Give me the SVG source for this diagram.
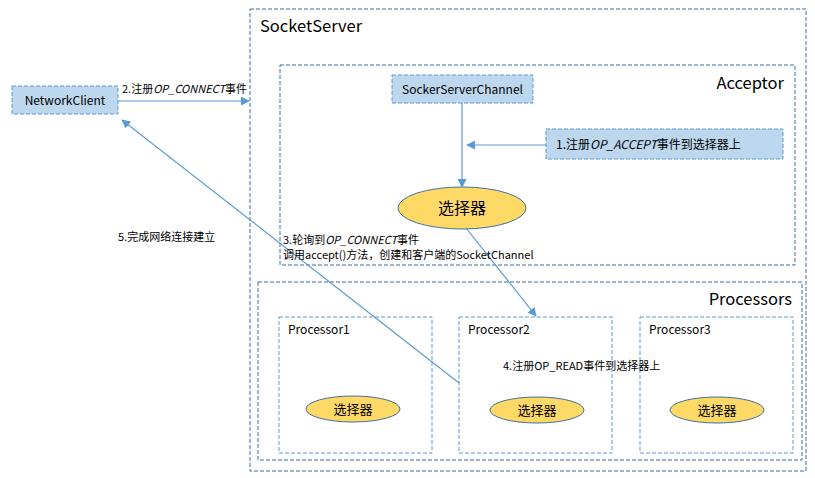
<svg xmlns="http://www.w3.org/2000/svg" width="815" height="478" viewBox="0 0 815 478">
<defs>
<style>
text{font-family:"Noto Sans CJK SC","Noto Sans",sans-serif;fill:#000}
.big{font-size:16.5px}
.mid{font-size:12px}
.sm{font-size:11px}
.outer{fill:none;stroke:#3A6EA5;stroke-dasharray:4 2;stroke-width:1}
.inner{fill:none;stroke:#5B9BD5;stroke-dasharray:4 2;stroke-width:1}
.blue{fill:#BDD7EE;stroke:#5B9BD5;stroke-dasharray:4 2;stroke-width:1}
.sel{fill:#FFD966;stroke:#41719C;stroke-width:1}
.ln{fill:none;stroke:#5B9BD5;stroke-width:1.2}
</style>
<marker id="ah" viewBox="0 0 10 10" refX="9" refY="5" markerWidth="9" markerHeight="9" markerUnits="userSpaceOnUse" orient="auto">
<path d="M0,0 L10,5 L0,10 z" fill="#5B9BD5"/>
</marker>
</defs>
<g id="socketserver">
<rect class="outer" x="250" y="9" width="556" height="462"/>
<text class="big" x="260" y="32">SocketServer</text>
</g>
<g id="acceptor">
<rect class="outer" x="280" y="65" width="515" height="200"/>
<text class="big" x="784" y="89" text-anchor="end">Acceptor</text>
</g>
<g id="processors">
<rect class="outer" x="258" y="282" width="544" height="178"/>
<text class="big" x="792" y="305" text-anchor="end">Processors</text>
</g>
<g id="networkclient">
<rect class="blue" x="12" y="86" width="106" height="28"/>
<text class="mid" x="65" y="105" text-anchor="middle">NetworkClient</text>
</g>
<g id="sockerserverchannel">
<rect class="blue" x="392" y="75" width="141" height="28"/>
<text class="mid" x="462.5" y="94" text-anchor="middle">SockerServerChannel</text>
</g>
<g id="step1">
<rect class="blue" x="546" y="129" width="237" height="30"/>
<text class="mid" x="556" y="149">1.注册<tspan font-style="italic">OP_ACCEPT</tspan>事件到选择器上</text>
</g>
<g id="acceptor-selector">
<ellipse class="sel" cx="462" cy="208" rx="64" ry="21"/>
<text x="462" y="214" text-anchor="middle" font-size="16">选择器</text>
</g>
<g id="processor1">
<rect class="inner" x="279" y="317" width="153" height="136"/>
<text class="mid" x="288" y="334">Processor1</text>
<ellipse class="sel" cx="353" cy="409" rx="47" ry="13"/>
<text x="353" y="414" text-anchor="middle" font-size="13">选择器</text>
</g>
<g id="processor2">
<rect class="inner" x="459" y="317" width="153" height="136"/>
<text class="mid" x="468" y="334">Processor2</text>
<ellipse class="sel" cx="537" cy="410" rx="47" ry="13"/>
<text x="537" y="415" text-anchor="middle" font-size="13">选择器</text>
</g>
<g id="processor3">
<rect class="inner" x="640" y="317" width="153" height="136"/>
<text class="mid" x="649" y="334">Processor3</text>
<ellipse class="sel" cx="717" cy="410" rx="47" ry="13"/>
<text x="717" y="415" text-anchor="middle" font-size="13">选择器</text>
</g>
<g id="connectors">
<line class="ln" x1="118" y1="101" x2="249" y2="101" marker-end="url(#ah)"/>
<line class="ln" x1="462" y1="103" x2="462" y2="187" marker-end="url(#ah)"/>
<line class="ln" x1="546" y1="145" x2="467" y2="145" marker-end="url(#ah)"/>
<line class="ln" x1="466" y1="228" x2="536" y2="316" marker-end="url(#ah)"/>
<line class="ln" x1="459" y1="383" x2="122" y2="120" marker-end="url(#ah)"/>
</g>
<g id="labels">
<text class="sm" x="122" y="93">2.注册<tspan font-style="italic">OP_CONNECT</tspan>事件</text>
<text class="sm" x="283" y="244">3.轮询到<tspan font-style="italic">OP_CONNECT</tspan>事件</text>
<text class="sm" x="283" y="259">调用accept()方法，创建和客户端的SocketChannel</text>
<text class="sm" x="503" y="370">4.注册OP_READ事件到选择器上</text>
<text class="sm" x="118" y="241">5.完成网络连接建立</text>
</g>
</svg>
